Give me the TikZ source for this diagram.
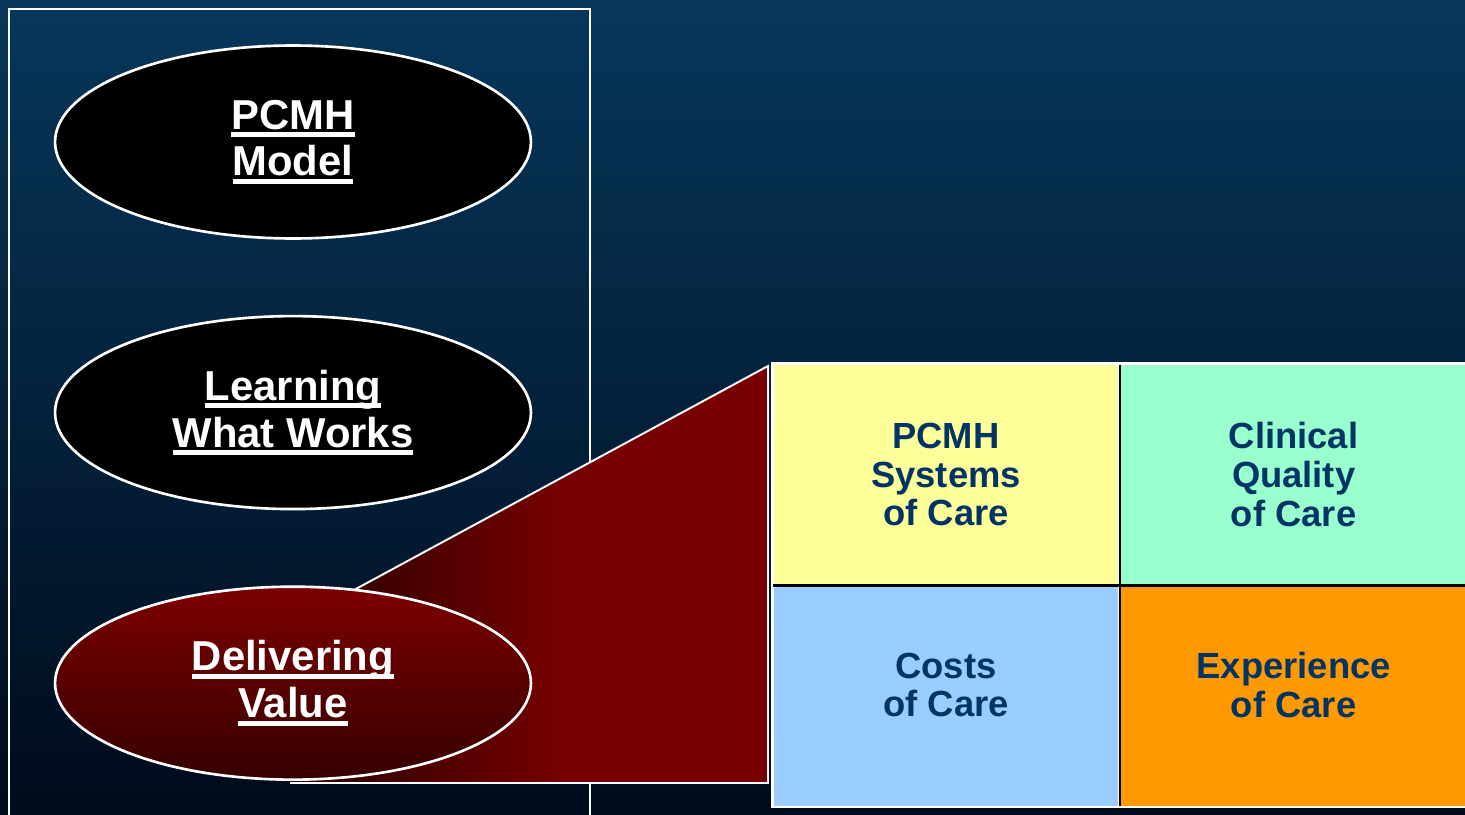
\documentclass[tikz,border=0pt]{standalone}
\usepackage{fontspec}
\setmainfont{Liberation Sans}
\usetikzlibrary{shapes, positioning}
\definecolor{bgtop}{HTML}{07375B}
\definecolor{bgbot}{HTML}{000B1B}
\definecolor{valtop}{HTML}{7C0000}
\definecolor{valbot}{HTML}{360000}
\definecolor{wedgered}{HTML}{780000}
\definecolor{wedgedark}{HTML}{3A0000}
\definecolor{cellyellow}{HTML}{FFFF99}
\definecolor{cellgreen}{HTML}{99FFCC}
\definecolor{cellblue}{HTML}{99CCFF}
\definecolor{cellorange}{HTML}{FF9900}
\definecolor{cellnavy}{HTML}{003366}
\pgfdeclarehorizontalshading{wedgeshade}{100bp}{color(0bp)=(wedgedark); color(33bp)=(wedgedark); color(54bp)=(wedgered); color(100bp)=(wedgered)}
\newcommand{\ulbar}[1]{\setbox0\hbox{#1}\rlap{\rule[-0.19em]{\wd0}{0.12em}}\box0}
\tikzstyle{pillar} = [ellipse, draw=white, line width=1.5pt, minimum width=9.52cm, minimum height=3.86cm, inner sep=0pt, text=white, align=center, font=\fontsize{23.8}{26.6}\selectfont\bfseries]
\tikzstyle{cell} = [rectangle, minimum width=6.9cm, minimum height=4.38cm, inner sep=0pt, text=cellnavy, align=center, font=\fontsize{20.7}{22}\selectfont\bfseries]
\tikzstyle{whiteline} = [draw=white, line width=1.1pt]
\tikzstyle{divider} = [draw=black, line width=1.5pt]

\begin{document}
\begin{tikzpicture}[x=0.02cm, y=-0.02cm, node distance=1.5cm]
    \useasboundingbox (0,0) rectangle (1465,815);
    \shade [top color=bgtop, bottom color=bgbot] (0,0) rectangle (1465,815);
    \draw [whiteline] (9,815) -- (9,9) -- (590,9) -- (590,815);
    \shade [shading=wedgeshade] (293,623) -- (768,366) -- (768,783) -- (290,783) -- cycle;
    \draw [whiteline] (293,623) -- (768,366) -- (768,783) -- (290,783);
    \node (Model) [pillar, fill=black] at (293,142) {\ulbar{PCMH}\\\ulbar{Model}};
    \node (Works) [pillar, fill=black, below = of Model] {\ulbar{Learning}\\\ulbar{What Works}};
    \node (Value) [pillar, top color=valtop, bottom color=valbot, below = of Works] {\ulbar{Delivering}\\\ulbar{Value}};
    \fill [white] (771,362) rectangle (1470,808);
    \node (Systems) [cell, fill=cellyellow] at (946,474.5) {PCMH\\Systems\\of Care};
    \node (Quality) [cell, fill=cellgreen, right = 0.04cm of Systems] {Clinical\\Quality\\of Care};
    \node (Costs) [cell, fill=cellblue, below = 0.04cm of Systems] {Costs\\of Care\\[-0.32cm]};
    \node (Experience) [cell, fill=cellorange, right = 0.04cm of Costs] {Experience\\of Care\\[-0.32cm]};
    \draw [divider] ([xshift=0.02cm]Systems.north east) -- ([xshift=0.02cm]Costs.south east);
    \draw [divider] ([yshift=-0.02cm]Systems.south west) -- ([yshift=-0.02cm]Quality.south east);
\end{tikzpicture}
\end{document}
